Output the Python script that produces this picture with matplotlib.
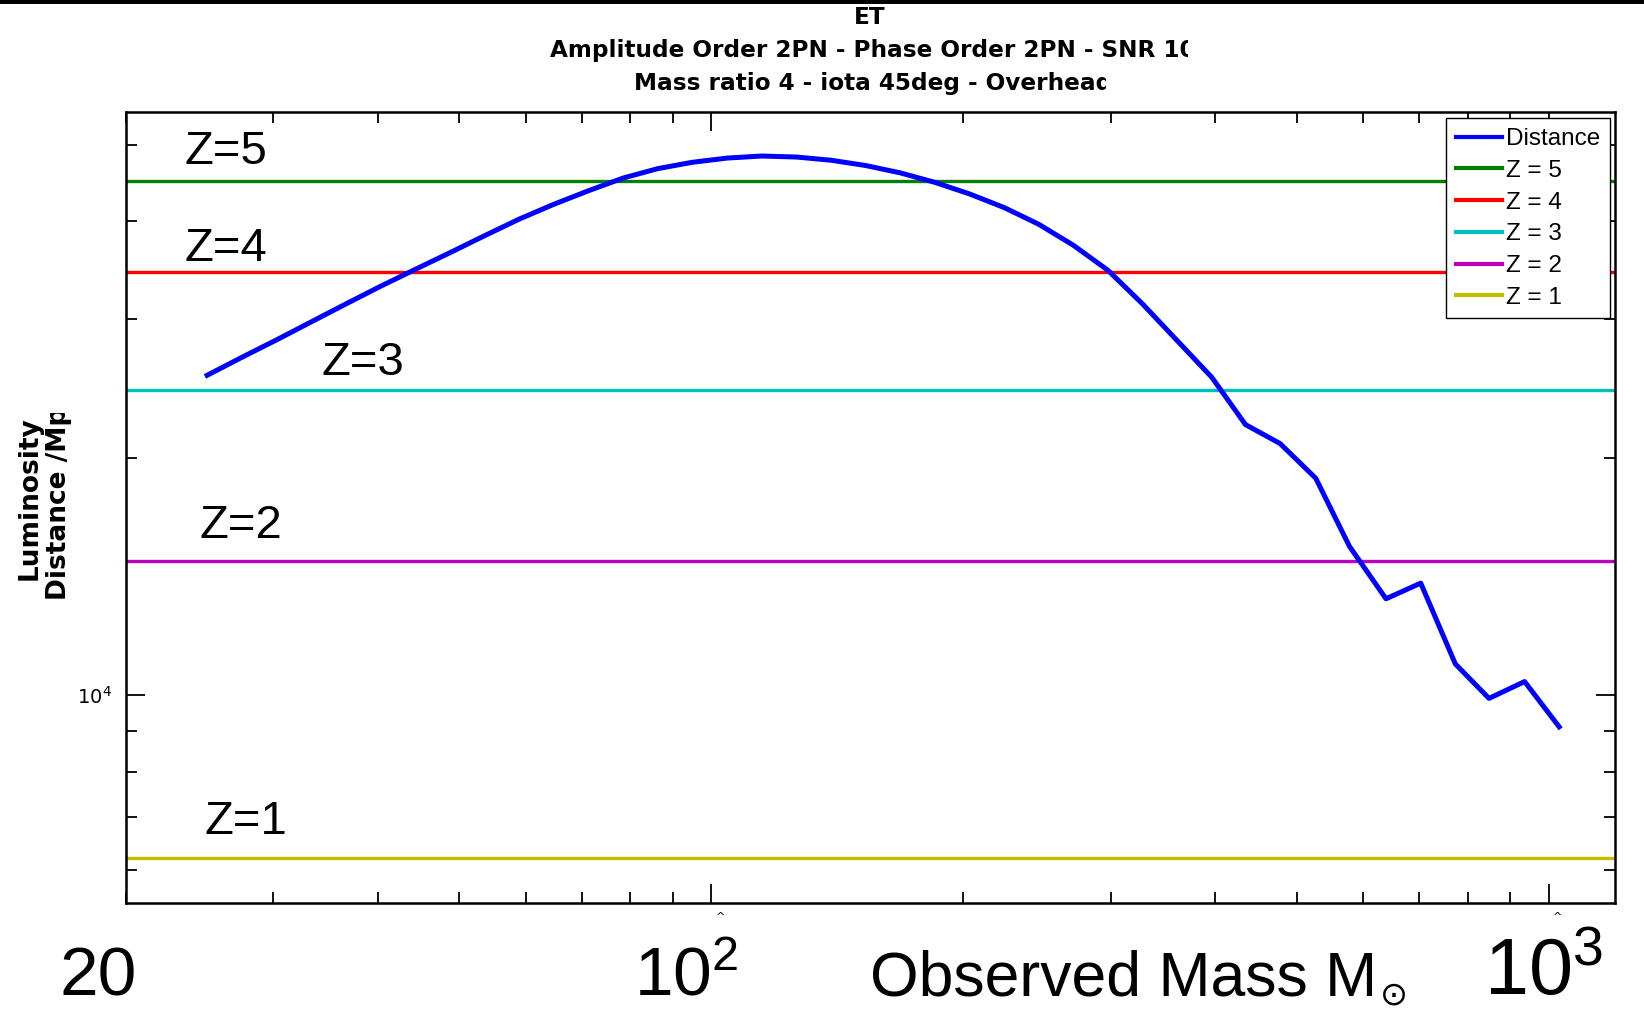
import matplotlib
matplotlib.use("Agg")
import matplotlib.pyplot as plt
from matplotlib.transforms import Bbox

# observed total mass (solar masses) and luminosity distance (Mpc)
mass = [25.0, 27.5, 30.3, 33.3, 36.6, 40.3, 44.3, 48.8, 53.6, 59.0,
        64.9, 71.4, 78.5, 86.3, 94.9, 104.4, 114.9, 126.3, 139.0, 152.8,
        168.1, 184.9, 203.4, 223.7, 246.0, 270.6, 297.7, 327.4, 360.1, 396.1,
        434.4, 477.8, 527.0, 578.1, 639.3, 703.4, 773.6, 848.6, 935.9, 1029.2]
distance = [25480, 26850, 28280, 29790, 31380, 33060, 34720, 36480, 38310, 40230,
            42010, 43710, 45350, 46610, 47480, 48070, 48360, 48220, 47770, 47040,
            46040, 44780, 43290, 41600, 39620, 37260, 34620, 31380, 28190, 25320,
            22060, 20870, 18860, 15460, 13260, 13880, 10960, 9910, 10410, 9120]

z_names = ["Z = 5", "Z = 4", "Z = 3", "Z = 2", "Z = 1"]
z_labels = ["Z=5", "Z=4", "Z=3", "Z=2", "Z=1"]
z_dist = [44900, 34500, 24400, 14800, 6220]
z_colors = [(0, 0.5, 0), (1, 0, 0), (0, 0.75, 0.75), (0.75, 0, 0.75), (0.75, 0.75, 0)]
# where the big "Z=n" labels sit (mass, distance)
z_text_pos = [(23.5, 49000), (23.5, 36900), (34.2, 26400), (24.5, 16400), (24.8, 6900)]

W, H = 1644, 1009
fig = plt.figure(figsize=(W / 100, H / 100), dpi=100)
ax = fig.add_axes([126 / W, 1 - 903 / H, (1615 - 126) / W, (903 - 112) / H])

ax.plot(mass, distance, color=(0, 0, 1), lw=3.6, label="Distance", zorder=5)
for name, d, c in zip(z_names, z_dist, z_colors):
    ax.axhline(d, color=c, lw=2.4, label=name)

ax.set_xscale("log")
ax.set_yscale("log")
ax.set_xlim(20, 1200)
ax.set_ylim(5450, 55000)

for lab, (xx, yy) in zip(z_labels, z_text_pos):
    ax.text(xx, yy, lab, fontsize=34, family="Liberation Sans", ha="left", va="center")

ax.tick_params(which="both", direction="in", top=True, right=True, width=1.3)
ax.tick_params(which="major", length=14)
ax.tick_params(which="minor", length=8)
ax.tick_params(axis="y", which="major", pad=10)
ax.set_xticklabels([])
ax.set_xticklabels([], minor=True)
ax.set_yticks([10000])
ax.set_yticklabels(["$10^4$"], fontsize=14)
ax.set_yticklabels([], minor=True)
for s in ax.spines.values():
    s.set_linewidth(1.8)

# leftovers of the original tick labels under the axis
for xm in (100, 1000):
    ax.text(xm * 1.025, -0.012, "^", transform=ax.get_xaxis_transform(),
            fontsize=8, ha="center", va="top")

leg = ax.legend(loc="upper right", prop={"family": "Liberation Sans", "size": 17.5},
                handlelength=1.9, handletextpad=0.15, labelspacing=0.4,
                borderpad=0.4, borderaxespad=0.0, bbox_to_anchor=(0.9965, 0.992),
                fancybox=False, edgecolor="black", framealpha=1)
leg.get_frame().set_linewidth(1.0)
for h in leg.legend_handles:
    h.set_linewidth(3)

# titles (cut off on the right like the original)
tfont = dict(fontsize=16.7, weight="bold", family="DejaVu Sans", va="center")
fig.text(870 / W, 1 - 18 / H, "ET", ha="center", **tfont)
t1 = fig.text(550 / W, 1 - 51 / H, "Amplitude Order 2PN - Phase Order 2PN - SNR 10",
              ha="left", **tfont)
t2 = fig.text(634 / W, 1 - 83 / H, "Mass ratio 4 - iota 45deg - Overhead",
              ha="left", **tfont)
t1.set_clip_box(Bbox([[0, 0], [1188, H]]))
t1.set_clip_on(True)
t2.set_clip_box(Bbox([[0, 0], [1106, H]]))
t2.set_clip_on(True)

# y label, two lines, clipped at the top
yfont = dict(rotation=90, fontsize=19, weight="bold", family="DejaVu Sans",
             ha="center", va="bottom")
l1 = fig.text(30 / W, 1 - 580 / H, "Luminosity", **yfont)
l2 = fig.text(59 / W, 1 - 600 / H, "Distance /Mpc", **yfont)
for t in (l1, l2):
    t.set_clip_box(Bbox([[0, 0], [W, H - 413]]))
    t.set_clip_on(True)

# large axis annotations under the plot
big = dict(family="Liberation Sans", va="baseline")
fig.text(59 / W, 1 - 995 / H, "20", ha="left", fontsize=50, **big)
fig.text(634 / W, 1 - 995 / H, "$\\mathregular{10^2}$", ha="left", fontsize=50, **big)
fig.text(870 / W, 1 - 995 / H, "Observed Mass M", ha="left", fontsize=45, **big)
fig.text(1380 / W, 1 - 1005 / H, "\u2299", ha="left", va="baseline", fontsize=24,
         family="DejaVu Sans")
fig.text(1484 / W, 1 - 995 / H, "$\\mathregular{10^3}$", ha="left", fontsize=57, **big)

# black strip along the top edge
fig.add_artist(plt.Line2D([0, 1], [1, 1], transform=fig.transFigure, color="black", lw=5))

fig.savefig("out.png", dpi=100)
